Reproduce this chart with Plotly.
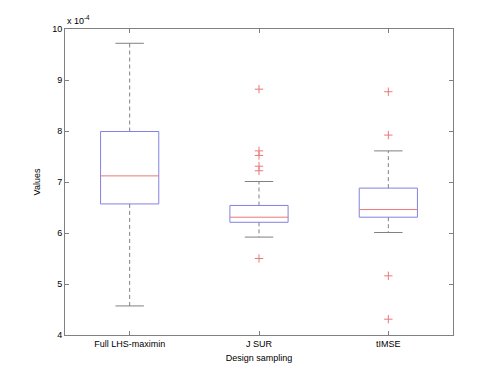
import plotly.graph_objects as go

# values are in units of 1e-4
categories = ['Full LHS-maximin', 'J SUR', 'tIMSE']
q1 = [6.57, 6.21, 6.31]
median = [7.12, 6.31, 6.46]
q3 = [7.99, 6.54, 6.88]
lower_whisker = [4.57, 5.92, 6.01]
upper_whisker = [9.72, 7.01, 7.61]
outliers = [[], [8.82, 7.61, 7.52, 7.31, 7.22, 5.50], [8.77, 7.92, 5.16, 4.31]]

BOX_HW = 0.225
CAP_HW = 0.11
BLUE = 'rgb(130,130,225)'
RED = 'rgb(235,120,120)'
GRAY = 'rgb(128,128,128)'

fig = go.Figure()

for i, name in enumerate(categories):
    c = i + 1
    # whiskers (dashed)
    fig.add_trace(go.Scatter(
        x=[c, c, None, c, c],
        y=[q3[i], upper_whisker[i], None, q1[i], lower_whisker[i]],
        mode='lines', line=dict(color=GRAY, width=1, dash='4px,3px'),
        hoverinfo='skip', showlegend=False))
    # caps
    fig.add_trace(go.Scatter(
        x=[c - CAP_HW, c + CAP_HW, None, c - CAP_HW, c + CAP_HW],
        y=[upper_whisker[i], upper_whisker[i], None, lower_whisker[i], lower_whisker[i]],
        mode='lines', line=dict(color=GRAY, width=1),
        hoverinfo='skip', showlegend=False))
    # box
    fig.add_trace(go.Scatter(
        x=[c - BOX_HW, c + BOX_HW, c + BOX_HW, c - BOX_HW, c - BOX_HW],
        y=[q1[i], q1[i], q3[i], q3[i], q1[i]],
        mode='lines', line=dict(color=BLUE, width=1),
        name=name, showlegend=False))
    # median
    fig.add_trace(go.Scatter(
        x=[c - BOX_HW, c + BOX_HW],
        y=[median[i], median[i]],
        mode='lines', line=dict(color=RED, width=1),
        hoverinfo='skip', showlegend=False))
    # outliers
    if outliers[i]:
        fig.add_trace(go.Scatter(
            x=[c] * len(outliers[i]), y=outliers[i],
            mode='markers',
            marker=dict(symbol='cross-thin', size=6, line=dict(color=RED, width=1)),
            showlegend=False))

axis_common = dict(
    showline=True, linecolor=GRAY, linewidth=1, mirror='ticks',
    ticks='inside', ticklen=4, tickcolor=GRAY, showgrid=False, zeroline=False,
    tickfont=dict(size=9, color='black'),
)

fig.update_xaxes(
    range=[0.5, 3.5], tickvals=[1, 2, 3], ticktext=categories,
    title=dict(text='Design sampling', font=dict(size=9, color='black'), standoff=6),
    **axis_common)
fig.update_yaxes(
    range=[4, 10], tickvals=[4, 5, 6, 7, 8, 9, 10],
    title=dict(text='Values', font=dict(size=9, color='black'), standoff=10),
    **axis_common)

fig.add_annotation(
    xref='paper', yref='paper', x=0, y=1, xanchor='left', yanchor='bottom',
    text='x 10<sup>-4</sup>', showarrow=False, yshift=1,
    font=dict(size=9, color='black'))

# page body adds an 8px offset, so the figure is sized to fit the window
fig.update_layout(
    width=492, height=368,
    margin=dict(l=57, r=47, t=21, b=41),
    plot_bgcolor='white', paper_bgcolor='white',
    font=dict(family='Liberation Sans, Arial, sans-serif', size=9, color='black'),
)

fig.write_html("out.html")
